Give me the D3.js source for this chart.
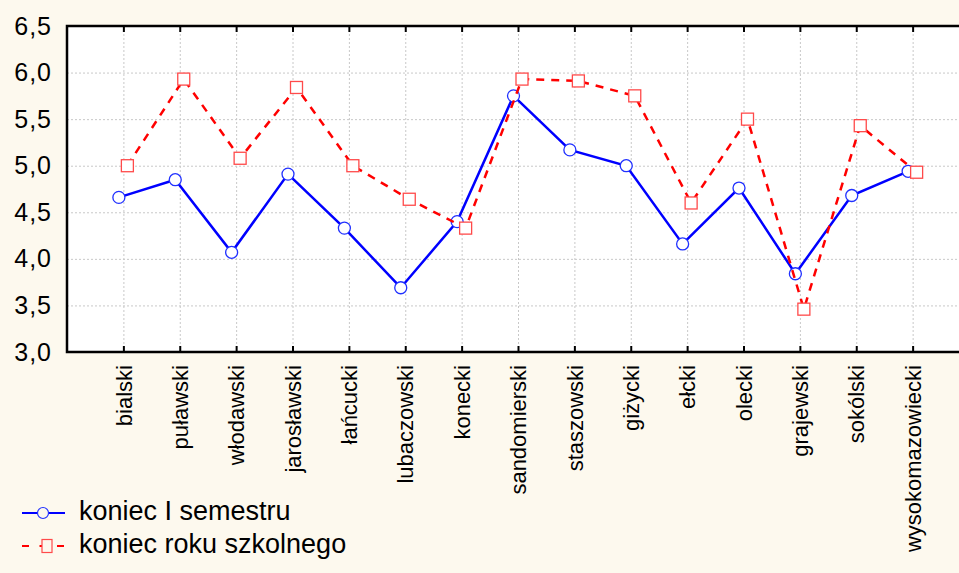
<!DOCTYPE html>
<html>
<head>
<meta charset="utf-8">
<script src="https://cdn.jsdelivr.net/npm/d3@7"></script>
<style>
    body { margin: 0; background: #fdf9ee; }
    svg { display: block; font-family: 'Liberation Sans', Arial, sans-serif; }
</style>
</head>
<body>
<svg id="chart"></svg>
<script>
const districts = ['bialski', 'puławski', 'włodawski', 'jarosławski', 'łańcucki', 'lubaczowski', 'konecki',
    'sandomierski', 'staszowski', 'giżycki', 'ełcki', 'olecki', 'grajewski', 'sokólski', 'wysokomazowiecki'];
const semesterEnd = [4.66, 4.85, 4.07, 4.91, 4.33, 3.69, 4.40, 5.75, 5.17, 5.00, 4.16, 4.76, 3.84, 4.68, 4.94];
const yearEnd = [5.00, 5.93, 5.08, 5.84, 5.00, 4.64, 4.33, 5.93, 5.91, 5.75, 4.60, 5.50, 3.46, 5.43, 4.93];
const yTicks = [3.0, 3.5, 4.0, 4.5, 5.0, 5.5, 6.0, 6.5];
const seriesNames = ['koniec I semestru', 'koniec roku szkolnego'];

const W = 959, H = 573;
const plot = { left: 67, top: 26, right: 969, bottom: 352 };

const svg = d3.select('#chart').attr('width', W).attr('height', H);

svg.append('rect').attr('width', W).attr('height', H).attr('fill', '#fdf9ee');

const x = d3.scalePoint().domain(districts).range([plot.left, plot.right]).padding(1);
const y = d3.scaleLinear().domain([3, 6.5]).range([plot.bottom, plot.top]);
const fmt = (d) => d3.format('.1f')(d).replace('.', ',');

// plot background
svg.append('rect')
    .attr('x', plot.left).attr('y', plot.top)
    .attr('width', plot.right - plot.left).attr('height', plot.bottom - plot.top)
    .attr('fill', '#fff');

// grid
const grid = svg.append('g').attr('stroke', '#c8c8c8').attr('stroke-dasharray', '2,2').attr('stroke-width', 1);
grid.selectAll('.hg').data(yTicks.slice(1, -1)).enter().append('line')
    .attr('x1', plot.left).attr('x2', plot.right)
    .attr('y1', (d) => y(d) + 0.5).attr('y2', (d) => y(d) + 0.5);
grid.selectAll('.vg').data(districts).enter().append('line')
    .attr('x1', (d) => x(d) + 0.5).attr('x2', (d) => x(d) + 0.5)
    .attr('y1', plot.top).attr('y2', plot.bottom);

// y axis labels
const yAxis = svg.append('g')
    .attr('transform', `translate(${plot.left},0)`)
    .call(d3.axisLeft(y).tickValues(yTicks).tickFormat(fmt).tickSize(0).tickPadding(15));
yAxis.select('.domain').remove();
yAxis.selectAll('text')
    .attr('font-family', "'Liberation Sans', Arial, sans-serif")
    .attr('font-size', 25).attr('letter-spacing', 1).attr('fill', '#000');

// x axis: inward ticks on top and bottom, rotated labels
const xAxis = svg.append('g')
    .attr('transform', `translate(0,${plot.bottom})`)
    .call(d3.axisBottom(x).tickSize(-6).tickPadding(0));
xAxis.select('.domain').remove();
xAxis.selectAll('line').attr('stroke', '#000').attr('stroke-width', 2);
xAxis.selectAll('text')
    .attr('font-family', "'Liberation Sans', Arial, sans-serif")
    .attr('font-size', 22).attr('fill', '#000')
    .attr('text-anchor', 'end')
    .attr('transform', 'rotate(-90)')
    .attr('x', -13).attr('y', 0).attr('dy', '0.35em');

const xTop = svg.append('g')
    .attr('transform', `translate(0,${plot.top})`)
    .call(d3.axisTop(x).tickSize(-6).tickFormat(''));
xTop.select('.domain').remove();
xTop.selectAll('line').attr('stroke', '#000').attr('stroke-width', 2);

// frame
svg.append('path')
    .attr('d', `M${plot.right},${plot.top}H${plot.left}V${plot.bottom}H${plot.right}`)
    .attr('fill', 'none').attr('stroke', '#000').attr('stroke-width', 2.5);

// series
const series = [
    { name: seriesNames[0], values: semesterEnd, dx: -4.5, color: '#0000ff', marker: '#2030ff', dash: null, shape: 'circle' },
    { name: seriesNames[1], values: yearEnd, dx: 4, color: '#ff0000', marker: '#ff4a4a', dash: '8,7', shape: 'square' }
];

series.forEach((s) => {
    const pts = districts.map((d, i) => [x(d) + s.dx, y(s.values[i])]);
    svg.append('path')
        .attr('d', d3.line()(pts))
        .attr('fill', 'none').attr('stroke', s.color).attr('stroke-width', 2.5)
        .attr('stroke-dasharray', s.dash);
    const g = svg.append('g');
    if (s.shape === 'circle') {
        g.selectAll('circle').data(pts).enter().append('circle')
            .attr('cx', (p) => p[0]).attr('cy', (p) => p[1]).attr('r', 6)
            .attr('fill', '#fff').attr('stroke', s.marker).attr('stroke-width', 1.3);
    } else {
        g.selectAll('rect').data(pts).enter().append('rect')
            .attr('x', (p) => p[0] - 6).attr('y', (p) => p[1] - 6)
            .attr('width', 12).attr('height', 12)
            .attr('fill', '#fff').attr('stroke', s.marker).attr('stroke-width', 1.3);
    }
});

// legend
const legend = svg.append('g').attr('transform', 'translate(22,513)');
const items = legend.selectAll('g').data(series).enter().append('g')
    .attr('transform', (d, i) => `translate(0,${i * 33})`);
items.append('line')
    .attr('x1', 0).attr('x2', 43).attr('y1', 0).attr('y2', 0)
    .attr('stroke', (d) => d.color).attr('stroke-width', 2)
    .attr('stroke-dasharray', (d) => (d.dash ? '7,10.5' : null));
items.each(function (d) {
    const g = d3.select(this);
    if (d.shape === 'circle') {
        g.append('circle').attr('cx', 21).attr('cy', 0).attr('r', 5.5)
            .attr('fill', '#fdf9ee').attr('stroke', d.marker).attr('stroke-width', 1.2);
    } else {
        g.append('rect').attr('x', 20).attr('y', -6.5).attr('width', 10).attr('height', 13)
            .attr('fill', '#fdf9ee').attr('stroke', d.marker).attr('stroke-width', 1.2);
    }
});
items.append('text')
    .attr('x', 57).attr('y', 7)
    .attr('font-size', 27).attr('fill', '#000')
    .text((d) => d.name);
</script>
</body>
</html>
